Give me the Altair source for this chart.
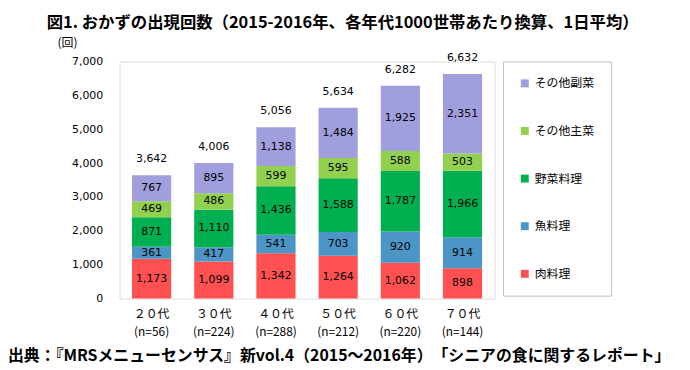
import altair as alt
import pandas as pd

# ---- data ----
age_labels = ["２０代", "３０代", "４０代", "５０代", "６０代", "７０代"]
n_labels = ["(n=56)", "(n=224)", "(n=288)", "(n=212)", "(n=220)", "(n=144)"]
series = ["肉料理", "魚料理", "野菜料理", "その他主菜", "その他副菜"]
meat = [1173, 1099, 1342, 1264, 1062, 898]
fish = [361, 417, 541, 703, 920, 914]
veg = [871, 1110, 1436, 1588, 1787, 1966]
other_main = [469, 486, 599, 595, 588, 503]
other_side = [767, 895, 1138, 1484, 1925, 2351]
totals = [3642, 4006, 5056, 5634, 6282, 6632]
colors = ["#FF5151", "#4B95C7", "#00B050", "#92D050", "#A09EDC"]
y_ticks = [0, 1000, 2000, 3000, 4000, 5000, 6000, 7000]

title_text = "図1. おかずの出現回数（2015-2016年、各年代1000世帯あたり換算、1日平均）"
source_text = "出典：『MRSメニューセンサス』新vol.4（2015～2016年）　「シニアの食に関するレポート」"

cats = [a + "\n" + n for a, n in zip(age_labels, n_labels)]
values = [meat, fish, veg, other_main, other_side]

rows = []
for si, (s, vals) in enumerate(zip(series, values)):
    for c, v in zip(cats, vals):
        rows.append({"cat": c, "series": s, "value": v, "ord": si})
df = pd.DataFrame(rows)
df_tot = pd.DataFrame({"cat": cats, "total": totals})
df_src = pd.DataFrame({"t": [source_text]})

JP = "Noto Sans CJK JP"
NUM = "DejaVu Sans"

legend_order = list(reversed(series))
legend_colors = list(reversed(colors))

x_axis = alt.Axis(
    title=None,
    labelExpr="split(datum.label, '\\n')",
    labelAngle=0,
    ticks=False,
    domain=False,
    labelFont=JP,
    labelFontSize=12,
    labelLineHeight=18,
    labelPadding=10,
    labelColor="#000000",
)
x_scale = alt.Scale(paddingInner=0.37, paddingOuter=0.2)

y_axis = alt.Axis(
    values=y_ticks,
    format=",.0f",
    grid=False,
    ticks=False,
    domain=False,
    labelFont=NUM,
    labelFontSize=11,
    labelPadding=17,
    labelColor="#000000",
    title="(回)",
    titleAngle=0,
    titleX=-53,
    titleY=-19,
    titleAlign="center",
    titleBaseline="middle",
    titleFont=JP,
    titleFontSize=12,
    titleFontWeight="normal",
    titleColor="#000000",
)
y_scale = alt.Scale(domain=[0, 7000], nice=False)

bars = alt.Chart(df).mark_bar().encode(
    x=alt.X("cat:N", sort=cats, scale=x_scale, axis=x_axis),
    y=alt.Y("value:Q", stack="zero", scale=y_scale, axis=y_axis),
    color=alt.Color(
        "series:N",
        scale=alt.Scale(domain=legend_order, range=legend_colors),
        legend=alt.Legend(
            orient="none",
            legendX=386.5,
            legendY=0,
            title=None,
            symbolType="square",
            symbolSize=64,
            symbolStrokeWidth=0,
            padding=16,
            rowPadding=36,
            strokeColor="#BFBFBF",
            labelFont=JP,
            labelFontSize=12,
            labelOffset=4,
            labelColor="#000000",
        ),
    ),
    order=alt.Order("ord:Q", sort="ascending"),
)

seg_text = (
    alt.Chart(df)
    .transform_stack(
        stack="value", groupby=["cat"], sort=[alt.SortField("ord", order="ascending")], as_=["v0", "v1"]
    )
    .transform_calculate(mid="(datum.v0 + datum.v1) / 2")
    .mark_text(font=NUM, fontSize=11, color="#000000", baseline="middle", align="center")
    .encode(
        x=alt.X("cat:N", sort=cats, scale=x_scale, axis=x_axis),
        y=alt.Y("mid:Q", scale=y_scale, axis=y_axis),
        text=alt.Text("value:Q", format=","),
    )
)

tot_text = (
    alt.Chart(df_tot)
    .mark_text(font=NUM, fontSize=11, color="#000000", baseline="middle", align="center", dy=-16)
    .encode(
        x=alt.X("cat:N", sort=cats, scale=x_scale, axis=x_axis),
        y=alt.Y("total:Q", scale=y_scale, axis=y_axis),
        text=alt.Text("total:Q", format=","),
    )
)

src = (
    alt.Chart(df_src)
    .mark_text(font=JP, fontSize=16, fontWeight="bold", color="#000000", align="left", baseline="middle")
    .encode(x=alt.value(-112.5), y=alt.value(296.5), text="t:N")
)

chart = (
    alt.layer(bars, seg_text, tot_text, src)
    .properties(
        width=378,
        height=239,
        title=alt.TitleParams(
            text=title_text,
            anchor="start",
            frame="group",
            dx=-73.5,
            dy=-1,
            font=JP,
            fontSize=16.5,
            fontWeight="bold",
            color="#000000",
        ),
        autosize=alt.AutoSizeParams(type="none"),
        padding={"left": 112.5, "top": 52.5, "right": 189, "bottom": 68},
    )
    .configure_view(stroke="#868686", strokeWidth=1)
    .configure(background="white")
)

chart.save("out.html", embed_options={"renderer": "svg", "actions": False})
